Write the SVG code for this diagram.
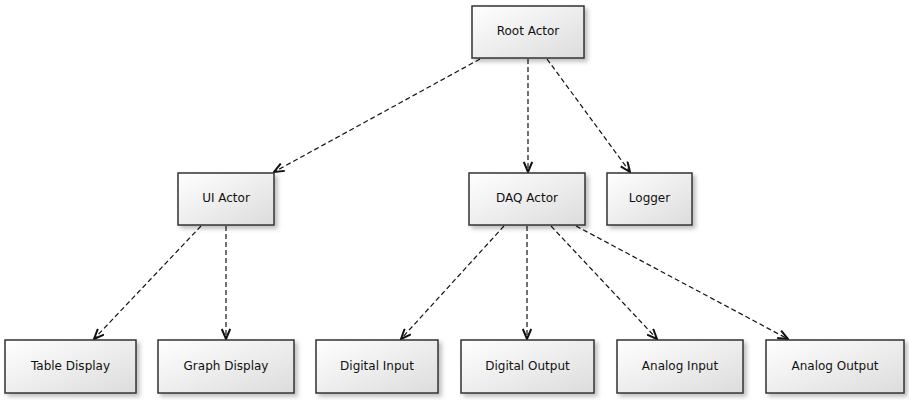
<svg xmlns="http://www.w3.org/2000/svg" width="909" height="400" viewBox="0 0 909 400">
<defs>
<linearGradient id="g" x1="0" y1="0" x2="1" y2="1">
<stop offset="0" stop-color="#ffffff"/>
<stop offset="1" stop-color="#dcdcdc"/>
</linearGradient>
<filter id="sh" x="-10%" y="-10%" width="130%" height="140%">
<feDropShadow dx="3" dy="3" stdDeviation="2" flood-color="#000" flood-opacity="0.25"/>
</filter>
<marker id="arr" viewBox="0 0 12 10" refX="11" refY="5" markerWidth="12" markerHeight="10" markerUnits="userSpaceOnUse" orient="auto">
<path d="M1,0.8 L11,5 L1,9.2" fill="none" stroke="#111" stroke-width="2"/>
</marker>
</defs>
<style>
.n rect{fill:url(#g);stroke:#333;stroke-width:1.5;filter:url(#sh)}
.n text{font-family:"DejaVu Sans",sans-serif;font-size:12px;fill:#111;text-anchor:middle;dominant-baseline:central}
.c line{stroke:#111;stroke-width:1.2;stroke-dasharray:5,3;marker-end:url(#arr)}
</style>
<g id="connectors" class="c">
<line x1="480" y1="59" x2="274" y2="172"/>
<line x1="528" y1="59" x2="528" y2="172"/>
<line x1="547" y1="59" x2="630" y2="172"/>
<line x1="201" y1="226" x2="94" y2="339"/>
<line x1="226" y1="226" x2="226" y2="339"/>
<line x1="504" y1="226" x2="401" y2="339"/>
<line x1="527" y1="226" x2="527" y2="339"/>
<line x1="551" y1="226" x2="657" y2="339"/>
<line x1="576" y1="226" x2="788" y2="339"/>
</g>
<g id="root" class="n"><rect x="472" y="6" width="112" height="52"/><text x="528" y="31">Root Actor</text></g>
<g id="ui" class="n"><rect x="178" y="173" width="96" height="52"/><text x="226" y="198">UI Actor</text></g>
<g id="daq" class="n"><rect x="469" y="173" width="116" height="52"/><text x="527" y="198">DAQ Actor</text></g>
<g id="logger" class="n"><rect x="607" y="173" width="85" height="52"/><text x="649.5" y="198">Logger</text></g>
<g id="table" class="n"><rect x="5" y="340" width="131" height="53"/><text x="70.5" y="366">Table Display</text></g>
<g id="graph" class="n"><rect x="158" y="340" width="136" height="53"/><text x="226" y="366">Graph Display</text></g>
<g id="digin" class="n"><rect x="316" y="340" width="122" height="53"/><text x="377" y="366">Digital Input</text></g>
<g id="digout" class="n"><rect x="461" y="340" width="133" height="53"/><text x="527.5" y="366">Digital Output</text></g>
<g id="anin" class="n"><rect x="617" y="340" width="126" height="53"/><text x="680" y="366">Analog Input</text></g>
<g id="anout" class="n"><rect x="766" y="340" width="138" height="53"/><text x="835" y="366">Analog Output</text></g>
</svg>
